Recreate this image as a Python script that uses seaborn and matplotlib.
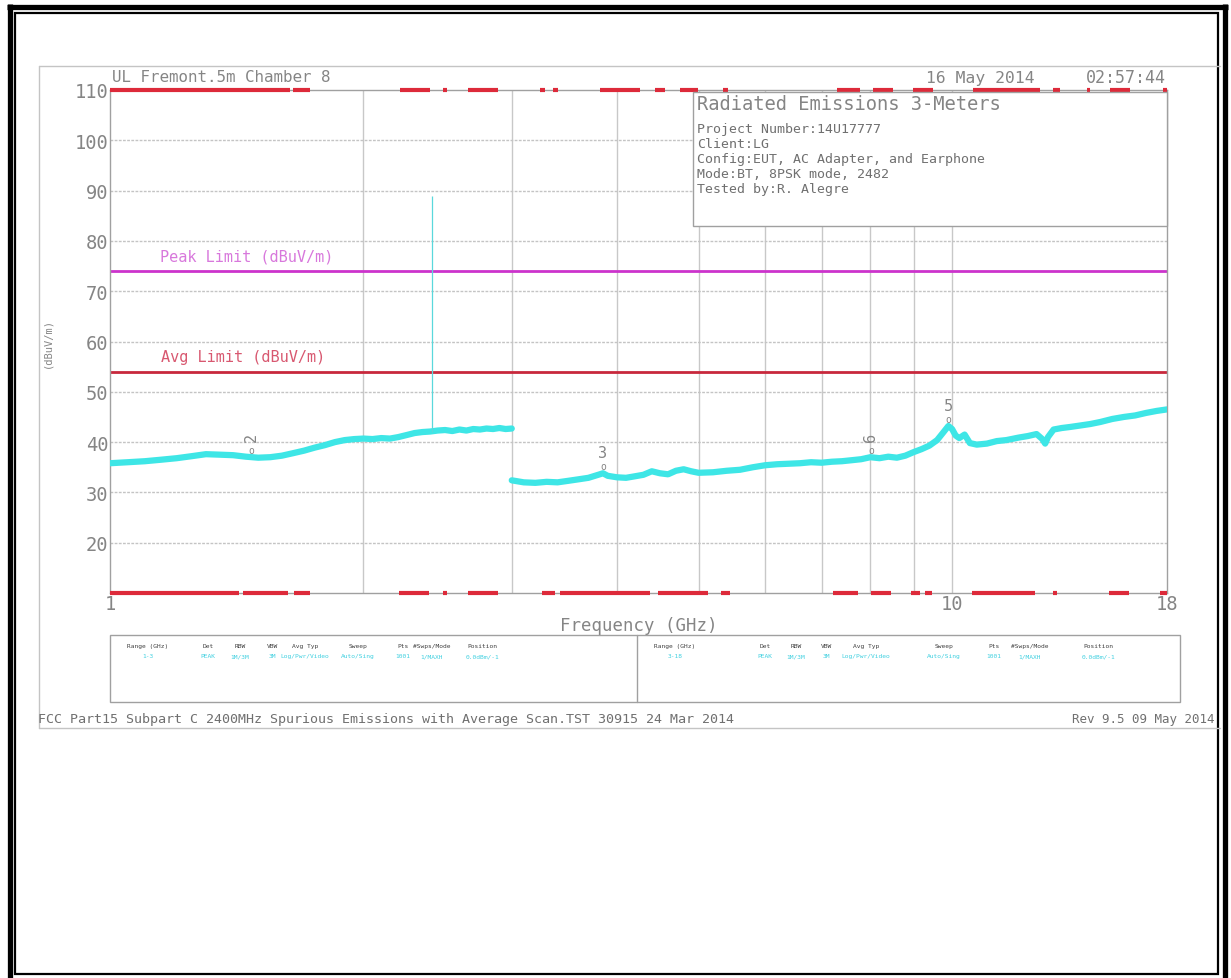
import numpy as np
import pandas as pd
import matplotlib
matplotlib.use("Agg")
import matplotlib.pyplot as plt
from matplotlib.patches import Rectangle
import seaborn as sns

# ---- values ----
# sweep 1 - 3 GHz (GHz, dBuV/m)
low_freq = [1.00, 1.05, 1.10, 1.15, 1.20, 1.25, 1.30, 1.35, 1.40, 1.45, 1.50, 1.55,
            1.60, 1.65, 1.70, 1.75, 1.80, 1.85, 1.90, 1.95, 2.00, 2.05, 2.10, 2.15,
            2.20, 2.25, 2.30, 2.35, 2.40, 2.45, 2.50, 2.55, 2.60, 2.65, 2.70, 2.75,
            2.80, 2.85, 2.90, 2.95, 3.00]
low_level = [35.8, 36.0, 36.2, 36.5, 36.8, 37.2, 37.6, 37.5, 37.4, 37.1, 36.9, 37.0,
             37.3, 37.8, 38.3, 38.9, 39.4, 40.0, 40.4, 40.6, 40.7, 40.6, 40.8, 40.7,
             41.0, 41.4, 41.8, 42.0, 42.1, 42.3, 42.4, 42.2, 42.5, 42.3, 42.6, 42.5,
             42.7, 42.6, 42.8, 42.6, 42.7]
# sweep 3 - 18 GHz
high_freq = [3.00, 3.10, 3.20, 3.30, 3.40, 3.50, 3.60, 3.70, 3.80, 3.85, 3.90, 4.00,
             4.10, 4.20, 4.30, 4.40, 4.50, 4.60, 4.70, 4.80, 4.90, 5.00, 5.20, 5.40,
             5.60, 5.80, 6.00, 6.20, 6.40, 6.60, 6.80, 7.00, 7.20, 7.40, 7.60, 7.80,
             8.00, 8.20, 8.40, 8.60, 8.80, 9.00, 9.20, 9.40, 9.60, 9.75, 9.90, 10.00,
             10.10, 10.20, 10.35, 10.50, 10.70, 11.00, 11.30, 11.60, 12.00, 12.30,
             12.60, 12.80, 12.90, 13.00, 13.20, 13.50, 13.80, 14.20, 14.60, 15.00,
             15.50, 16.00, 16.50, 17.00, 17.50, 18.00]
high_level = [32.4, 32.0, 31.9, 32.1, 32.0, 32.3, 32.6, 32.9, 33.5, 33.8, 33.3, 33.0,
              32.9, 33.2, 33.5, 34.2, 33.8, 33.6, 34.3, 34.6, 34.2, 33.9, 34.0, 34.3,
              34.5, 35.0, 35.4, 35.6, 35.7, 35.8, 36.0, 35.9, 36.1, 36.2, 36.4, 36.6,
              37.0, 36.8, 37.1, 36.9, 37.3, 38.0, 38.6, 39.3, 40.4, 41.8, 43.2, 42.6,
              41.3, 40.8, 41.5, 39.8, 39.5, 39.7, 40.2, 40.4, 40.9, 41.2,
              41.6, 40.6, 39.7, 41.0, 42.5, 42.8, 43.0, 43.3, 43.6, 44.0,
              44.6, 45.0, 45.3, 45.8, 46.2, 46.5]
spike_freq = 2.412
spike_base = 42.1
spike_top = 89.0

peak_limit = 74
avg_limit = 54

marker_ids = ["2", "3", "6", "5"]
marker_freq = [1.47, 3.85, 8.01, 9.89]
marker_level = [37.0, 33.8, 37.0, 43.2]
marker_rot = [90, 0, 90, 0]

# red bars along the top / bottom frame (GHz)
top_red_start = [1.00, 1.649, 2.210, 2.486, 2.662, 3.241, 3.358, 3.819, 4.438, 4.753,
                 5.346, 7.301, 8.056, 8.987, 10.59, 13.18, 14.46, 15.40, 17.80]
top_red_end = [1.636, 1.728, 2.399, 2.513, 2.889, 3.285, 3.405, 4.260, 4.561, 4.992,
               5.419, 7.775, 8.509, 9.492, 12.72, 13.43, 14.58, 16.27, 18.0]
bot_red_start = [1.00, 1.439, 1.654, 2.204, 2.486, 2.662, 3.259, 3.423, 4.475, 5.316,
                 7.221, 8.012, 8.938, 9.287, 10.56, 13.18, 15.36, 17.66]
bot_red_end = [1.423, 1.627, 1.728, 2.392, 2.513, 2.889, 3.377, 4.378, 5.131, 5.449,
               7.732, 8.463, 9.161, 9.466, 12.55, 13.33, 16.23, 18.0]

y_ticks = [20, 30, 40, 50, 60, 70, 80, 90, 100, 110]
x_ticks = [1, 10, 18]
x_tick_labels = ["1", "10", "18"]
grid_freqs = [2, 3, 4, 5, 6, 7, 8, 9, 10]

info_title = "Radiated Emissions 3-Meters"
info_lines = ["Project Number:14U17777", "Client:LG",
              "Config:EUT, AC Adapter, and Earphone",
              "Mode:BT, 8PSK mode, 2482", "Tested by:R. Alegre"]

table_headers = ["Range (GHz)", "Det", "RBW", "VBW", "Avg Typ", "Sweep", "Pts",
                 "#Swps/Mode", "Position"]
table_left = ["1-3", "PEAK", "1M/3M", "3M", "Log/Pwr/Video", "Auto/Sing", "1001",
              "1/MAXH", "0.0dBm/-1"]
table_right = ["3-18", "PEAK", "1M/3M", "3M", "Log/Pwr/Video", "Auto/Sing", "1001",
               "1/MAXH", "0.0dBm/-1"]

low_df = pd.DataFrame({"freq": low_freq, "level": low_level})
high_df = pd.DataFrame({"freq": high_freq, "level": high_level})

sns.set_style("white")
plt.rcParams['font.family'] = ['DejaVu Sans Mono', 'DejaVu Sans']

W, H = 1231, 979
fig = plt.figure(figsize=(W / 100, H / 100), dpi=100)
fig.patch.set_facecolor("white")

txt = "#858585"
cyan = "#3ee6e6"

ax = fig.add_axes([110 / W, 1 - 594 / H, 1057 / W, 503 / H])
ax.set_xscale("log")
ax.set_xlim(1, 18)
ax.set_ylim(10, 110)

# grid
ax.vlines(grid_freqs, 10, 110, color="#c8c8c8", lw=1, zorder=1)
ax.hlines(y_ticks[:-1], 1, 18, color="#c4c4c4", lw=1, linestyles=(0, (2, 1)), zorder=1)

# limits
ax.axhline(peak_limit, color="#cc33cc", lw=2, zorder=2)
ax.axhline(avg_limit, color="#c8283c", lw=2, zorder=2)
ax.text(1.145, peak_limit + 3, "Peak Limit (dBuV/m)", color="#d878dc", fontsize=11,
        va="center", ha="left")
ax.text(1.15, avg_limit + 3, "Avg Limit (dBuV/m)", color="#d85870", fontsize=11,
        va="center", ha="left")

# trace
sns.lineplot(data=low_df, x="freq", y="level", color=cyan, lw=4.5, ax=ax,
             estimator=None, sort=False, zorder=3)
sns.lineplot(data=high_df, x="freq", y="level", color=cyan, lw=4.5, ax=ax,
             estimator=None, sort=False, zorder=3)
ax.vlines(spike_freq, spike_base, spike_top, color="#5ad8dc", lw=0.9, zorder=3)

# markers
for mid, mf, ml, rot in zip(marker_ids, marker_freq, marker_level, marker_rot):
    ax.annotate("o", (mf, ml), xytext=(0, 5), textcoords="offset points",
                ha="center", va="center", fontsize=7, color=txt, zorder=4)
    ax.annotate(mid, (mf, ml), xytext=(0, 15), textcoords="offset points",
                ha="center", va="center", fontsize=11, color=txt, rotation=rot, zorder=4)

# red bars on frame
ax.hlines([110] * len(top_red_start), top_red_start, top_red_end, color="#dd2a3a",
          lw=3, clip_on=False, zorder=5)
ax.hlines([10] * len(bot_red_start), bot_red_start, bot_red_end, color="#dd2a3a",
          lw=3, clip_on=False, zorder=5)

ax.set_yticks(y_ticks)
ax.set_yticklabels([str(v) for v in y_ticks])
ax.set_xticks(x_ticks)
ax.set_xticklabels(x_tick_labels)
ax.xaxis.set_minor_locator(matplotlib.ticker.NullLocator())
ax.tick_params(length=0, labelsize=13.5, labelcolor=txt)
ax.tick_params(axis="y", pad=1)
ax.tick_params(axis="x", pad=1)
ax.set_xlabel("Frequency (GHz)", fontsize=12.5, color=txt, labelpad=2)
ax.set_ylabel("(dBuV/m)", fontsize=7.5, color=txt, labelpad=16)
for s in ax.spines.values():
    s.set_color("#a0a0a0")
    s.set_linewidth(1)

# ---- overlay in pixel coordinates for page decorations ----
ov = fig.add_axes([0, 0, 1, 1], zorder=5)
ov.set_xlim(0, W)
ov.set_ylim(H, 0)
ov.axis("off")
ov.set_facecolor("none")

# analyzer screen frame
ov.plot([39, 39], [67, 729], color="#c4c4c4", lw=1)
ov.plot([39, 1220], [67, 67], color="#c4c4c4", lw=1)
ov.plot([39, 1220], [729, 729], color="#c4c4c4", lw=1)

ov.text(112, 78, "UL Fremont.5m Chamber 8", fontsize=11.4, color=txt, va="center")
ov.text(1035, 78, "16 May 2014", fontsize=11.8, color=txt, va="center", ha="right")
ov.text(1166, 78, "02:57:44", fontsize=12, color=txt, va="center", ha="right")

# info box
ov.add_patch(Rectangle((693, 93), 474, 134, fc="white", ec="#a0a0a0", lw=1))
ov.text(697, 105, info_title, fontsize=13.5, color=txt, va="center")
for i, line in enumerate(info_lines):
    ov.text(697, 130 + i * 14.8, line, fontsize=9.5, color="#707070", va="center")

# settings table
ov.add_patch(Rectangle((110, 636), 1070, 67, fill=False, ec="#a0a0a0", lw=1))
ov.plot([637, 637], [636, 703], color="#a0a0a0", lw=1)
left_x = [148, 208, 240, 272, 305, 358, 403, 432, 482]
right_x = [675, 765, 796, 826, 866, 944, 994, 1030, 1098]
for hx, h, v in zip(left_x, table_headers, table_left):
    ov.text(hx, 647, h, fontsize=4.5, color="#404040", ha="center", va="center")
    ov.text(hx, 657, v, fontsize=4.5, color="#40d0e0", ha="center", va="center")
for hx, h, v in zip(right_x, table_headers, table_right):
    ov.text(hx, 647, h, fontsize=4.5, color="#404040", ha="center", va="center")
    ov.text(hx, 657, v, fontsize=4.5, color="#40d0e0", ha="center", va="center")

ov.text(38, 720, "FCC Part15 Subpart C 2400MHz Spurious Emissions with Average Scan.TST 30915 24 Mar 2014",
        fontsize=9.6, color="#707070", va="center")
ov.text(1214, 720, "Rev 9.5 09 May 2014", fontsize=9, color="#707070", va="center",
        ha="right")

# outer page frame
ov.plot([9.5, 9.5], [5, H], color="black", lw=3.8, solid_capstyle="butt")
ov.plot([7, 1228], [7.5, 7.5], color="black", lw=3.8, solid_capstyle="butt")
ov.plot([1225, 1225], [5, H], color="black", lw=3.8, solid_capstyle="butt")
ov.add_patch(Rectangle((15, 13.5), 1203, 961.5, fill=False, ec="black", lw=1.6))

fig.savefig("out.png", dpi=100)
